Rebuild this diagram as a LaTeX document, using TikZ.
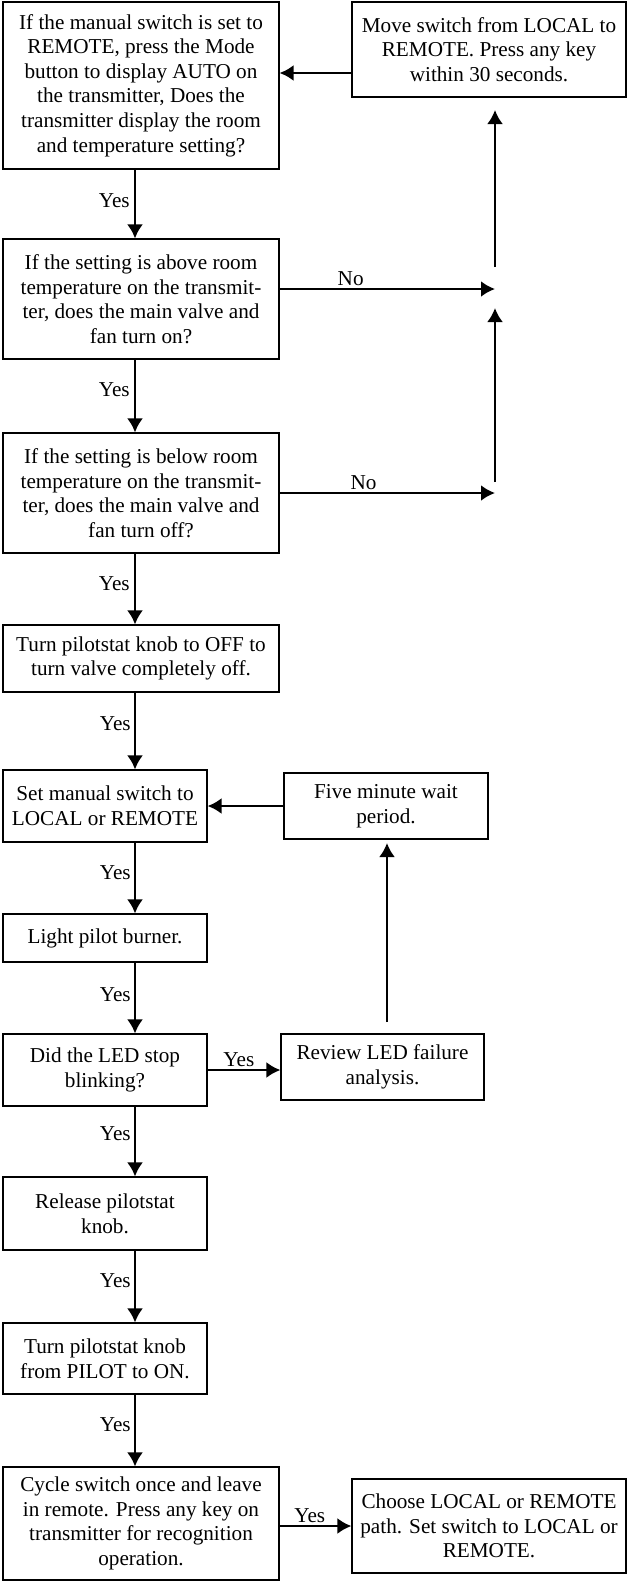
\documentclass[tikz,border=0pt]{standalone}
\usepackage{fontspec}
\setmainfont{Liberation Serif}
\usetikzlibrary{arrows.meta}

\begin{document}
\begin{tikzpicture}[x=1pt,y=-1pt,>={Latex[length=14pt,width=16pt]},
  font=\fontsize{21.2}{24.6}\selectfont,
  stepbox/.style={draw,line width=1.1pt,align=center,inner sep=2pt},
  widebox/.style={stepbox,minimum width=276pt},
  narrowbox/.style={stepbox,minimum width=204pt},
  flow/.style={line width=2.6pt,->},
  lbl/.style={inner sep=2pt}]
  \useasboundingbox (0,0) rectangle (627,1582);

  % main column
  \node[widebox,minimum height=167pt] (ask) at (141,85.5) {If the manual switch is set to\\REMOTE, press the Mode\\button to display AUTO on\\the transmitter, Does the\\transmitter display the room\\and temperature setting?};
  \node[widebox,minimum height=120pt] (above) at (141,299) {If the setting is above room\\temperature on the transmit-\\ter, does the main valve and\\fan turn on?};
  \node[widebox,minimum height=120pt] (below) at (141,493) {If the setting is below room\\temperature on the transmit-\\ter, does the main valve and\\fan turn off?};
  \node[widebox,minimum height=67pt] (knoboff) at (141,658.5) {Turn pilotstat knob to OFF to\\turn valve completely off.};
  \node[narrowbox,minimum height=72pt] (setsw) at (105,806) {Set manual switch to\\LOCAL or REMOTE};
  \node[narrowbox,minimum height=48pt] (light) at (105,938) {Light pilot burner.};
  \node[narrowbox,minimum height=72pt] (led) at (105,1070) {Did the LED stop\\blinking?};
  \node[narrowbox,minimum height=73pt] (release) at (105,1213.5) {Release pilotstat\\knob.};
  \node[narrowbox,minimum height=71pt] (knobon) at (105,1358.5) {Turn pilotstat knob\\from PILOT to ON.};
  \node[widebox,minimum height=113pt] (cycle) at (141,1523.5) {Cycle switch once and leave\\in remote. Press any key on\\transmitter for recognition\\operation.};

  % side boxes
  \node[stepbox,minimum width=274pt,minimum height=95pt] (move) at (489,49.5) {Move switch from LOCAL to\\REMOTE. Press any key\\within 30 seconds.};
  \node[narrowbox,minimum height=66pt] (wait) at (386,806) {Five minute wait\\period.};
  \node[stepbox,minimum width=203pt,minimum height=66pt] (review) at (382.5,1067) {Review LED failure\\analysis.};
  \node[stepbox,minimum width=274pt,minimum height=94pt] (choose) at (489,1526) {Choose LOCAL or REMOTE\\path. Set switch to LOCAL or\\REMOTE.};

  \coordinate (spine) at (135,0);
  \coordinate (back) at (400,73);
  \coordinate (nojoin1) at (495,289);
  \coordinate (nojoin2) at (495,493);
  \coordinate (up1a) at (495,267);
  \coordinate (up1b) at (495,110);
  \coordinate (up2a) at (495,482);
  \coordinate (up2b) at (495,308);
  \coordinate (up3a) at (387,1022);
  \coordinate (up3b) at (387,843);

  % yes path down the left
  \draw[flow] (ask.south -| spine) -- node[lbl,left=2pt,yshift=3pt] {Yes} (above.north -| spine);
  \draw[flow] (above.south -| spine) -- node[lbl,left=2pt,yshift=6pt] {Yes} (below.north -| spine);
  \draw[flow] (below.south -| spine) -- node[lbl,left=2pt,yshift=5pt] {Yes} (knoboff.north -| spine);
  \draw[flow] (knoboff.south -| spine) -- node[lbl,left=1pt,yshift=7pt] {Yes} (setsw.north -| spine);
  \draw[flow] (setsw.south -| spine) -- node[lbl,left=1pt,yshift=5pt] {Yes} (light.north -| spine);
  \draw[flow] (light.south -| spine) -- node[lbl,left=1pt,yshift=3pt] {Yes} (led.north -| spine);
  \draw[flow] (led.south -| spine) -- node[lbl,left=1pt,yshift=8pt] {Yes} (release.north -| spine);
  \draw[flow] (release.south -| spine) -- node[lbl,left=1pt,yshift=6pt] {Yes} (knobon.north -| spine);
  \draw[flow] (knobon.south -| spine) -- node[lbl,left=1pt,yshift=6pt] {Yes} (cycle.north -| spine);

  % no branches and loops
  \draw[flow] (above.east |- nojoin1) -- node[lbl,above,pos=0.33] {No} (nojoin1);
  \draw[flow] (below.east |- nojoin2) -- node[lbl,above,pos=0.39] {No} (nojoin2);
  \draw[flow] (up1a) -- (up1b);
  \draw[flow] (up2a) -- (up2b);
  \draw[flow] (move.west |- back) -- (ask.east |- back);
  \draw[flow] (led.east) -- node[lbl,above,pos=0.43] {Yes} (led.east -| review.west);
  \draw[flow] (up3a) -- (up3b);
  \draw[flow] (wait.west) -- (setsw.east);
  \draw[flow] (cycle.east |- choose.west) -- node[lbl,above,pos=0.42] {Yes} (choose.west);
\end{tikzpicture}
\end{document}
